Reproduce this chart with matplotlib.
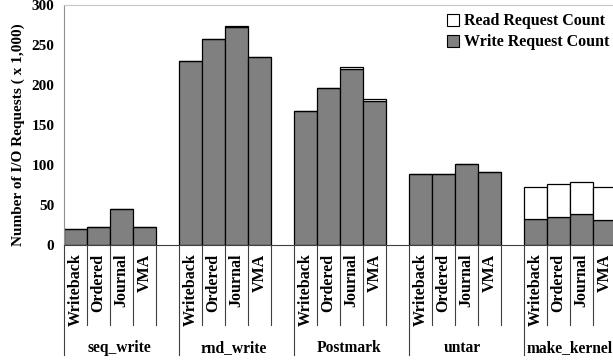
import matplotlib.pyplot as plt
import matplotlib.transforms as mtransforms
from matplotlib.patches import Patch

plt.rcParams['font.family'] = 'Liberation Serif'
plt.rcParams['font.weight'] = 'bold'
plt.rcParams['axes.labelweight'] = 'bold'

# data (x 1,000 requests)
groups = ['seq_write', 'rnd_write', 'Postmark', 'untar', 'make_kernel']
modes = ['Writeback', 'Ordered', 'Journal', 'VMA']
write_counts = [
    [20, 22, 45, 23],
    [230, 257, 272, 235],
    [168, 196.5, 220.5, 180.5],
    [89, 89, 101, 91],
    [33, 35.4, 38.2, 31.6],
]
read_counts = [
    [0, 0, 0, 0],
    [0, 0, 2, 0],
    [0, 0, 2, 1.5],
    [0, 0, 0, 0],
    [39.8, 41.1, 40.8, 40.6],
]

fig = plt.figure(figsize=(6.13, 3.62), dpi=100)
ax = fig.add_axes([64/613, 117/362, 549/613, 240/362])

gray = '#808080'
for g in range(len(groups)):
    xs = [g*5 + k for k in range(4)]
    ax.bar(xs, write_counts[g], width=1, align='edge', color=gray,
           edgecolor='black', linewidth=0.9, zorder=2)
    ax.bar(xs, read_counts[g], width=1, align='edge', bottom=write_counts[g],
           color='white', edgecolor='black', linewidth=0.9, zorder=2)

ax.set_xlim(0, 23.87)
ax.set_ylim(0, 300)
ax.set_yticks(range(0, 301, 50))
ax.set_xticks([])
ax.tick_params(axis='y', length=0, pad=7, labelsize=11)
ax.set_ylabel('Number of I/O Requests ( x 1,000)', fontsize=11)
ax.yaxis.set_label_coords(-0.071, 0.458)

ax.spines['right'].set_visible(False)
ax.spines['top'].set_color('#c8c8c8')
ax.spines['left'].set_color('#909090')
ax.spines['bottom'].set_color('#404040')

trans = mtransforms.blended_transform_factory(ax.transData, ax.transAxes)
group_label_x = [2.4, 2.4, 2.4, 2.3, 2.0]
for g, name in enumerate(groups):
    base = g * 5
    ax.plot([base, base], [0, -0.458], transform=trans, clip_on=False,
            color='#404040', lw=0.8)
    for k in range(1, 5):
        ax.plot([base + k, base + k], [0, -0.333], transform=trans,
                clip_on=False, color='#404040', lw=0.8)
    for k, m in enumerate(modes):
        ax.text(base + k + 0.5, -0.035, m, transform=trans, rotation=90,
                ha='center', va='top', fontsize=11.5)
    ax.text(base + group_label_x[g], -0.43, name, transform=trans,
            ha='center', va='center', fontsize=11.2)

handles = [Patch(facecolor='white', edgecolor='black', lw=0.8),
           Patch(facecolor=gray, edgecolor='black', lw=0.8)]
ax.legend(handles, ['Read Request Count', 'Write Request Count'],
          loc='upper right', bbox_to_anchor=(1.02, 1.025), frameon=False,
          fontsize=11.5, handlelength=0.8, handleheight=0.8,
          handletextpad=0.3, labelspacing=0.3)

fig.savefig('out.png', dpi=100)
